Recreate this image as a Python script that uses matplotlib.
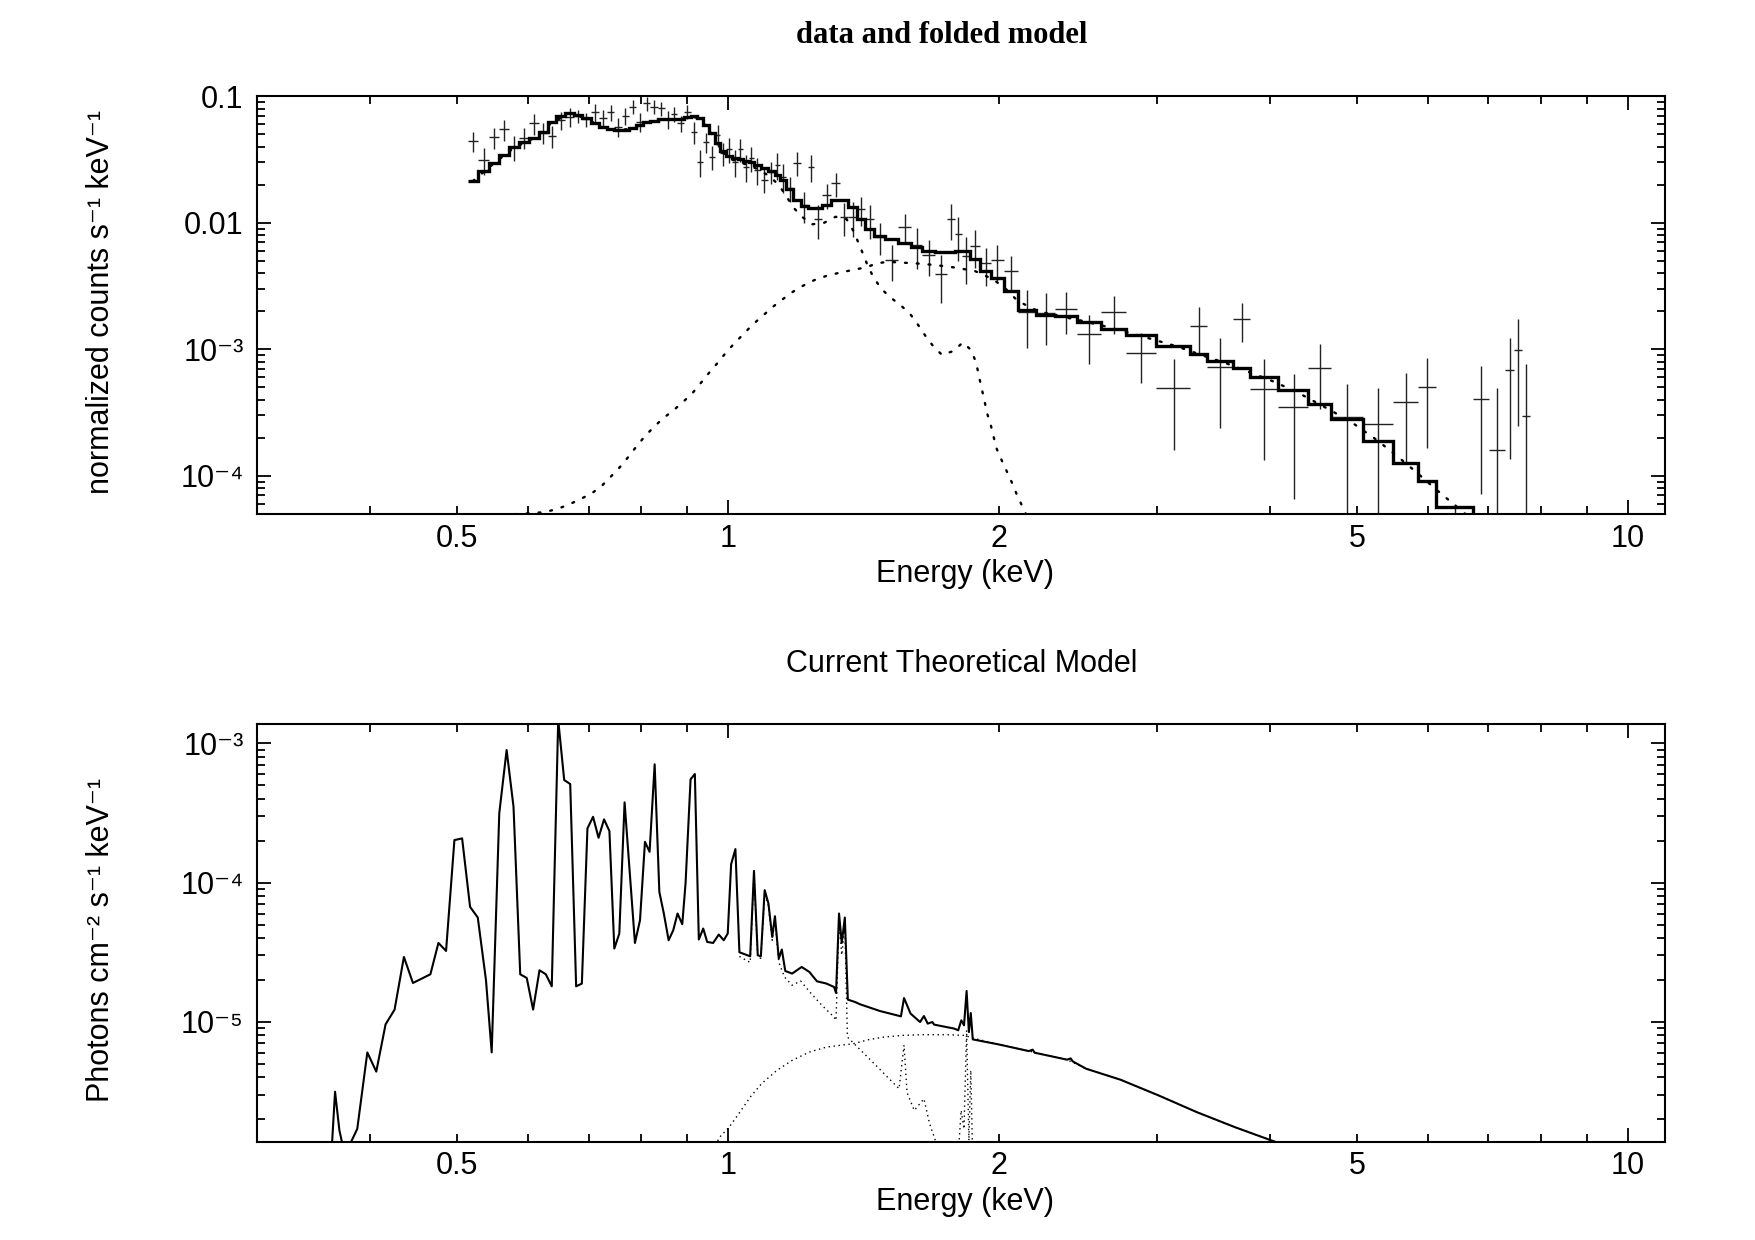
import numpy as np
import matplotlib
matplotlib.use("Agg")
import matplotlib.pyplot as plt
from matplotlib.ticker import FixedLocator, FixedFormatter, LogLocator, NullFormatter

plt.rcParams['font.family'] = ['Liberation Sans', 'DejaVu Sans']

# ---- upper panel: data and folded model ----
# channel bin edges (keV)
bin_edges = [0.5139, 0.5276, 0.5424, 0.5570, 0.5714, 0.5857, 0.6008, 0.6160, 0.6302, 0.6445,
             0.6595, 0.6745, 0.6891, 0.7035, 0.7187, 0.7335, 0.7477, 0.7618, 0.7765, 0.7911,
             0.8052, 0.8197, 0.8352, 0.8502, 0.8641, 0.8783, 0.8933, 0.9088, 0.9235, 0.9381,
             0.9527, 0.9669, 0.9810, 0.9957, 1.0108, 1.0251, 1.0398, 1.0545, 1.0694, 1.0872,
             1.1082, 1.1274, 1.1425, 1.1602, 1.1820, 1.2043, 1.2260, 1.2478, 1.2735, 1.3031,
             1.3320, 1.3612, 1.3907, 1.4205, 1.4535, 1.4949, 1.5465, 1.5965, 1.6440, 1.6986,
             1.7500, 1.7861, 1.8183, 1.8586, 1.9062, 1.9610, 2.0243, 2.1010, 2.1998, 2.3120,
             2.4425, 2.5957, 2.7704, 2.9914, 3.2648, 3.4062, 3.6440, 3.8019, 4.0878, 4.4160,
             4.6759, 5.0786, 5.4801, 5.8479, 6.1275, 6.7232, 7.0146, 7.3072, 7.4732, 7.6200,
             7.7850]

# normalized counts s^-1 keV^-1
counts = [0.04432, 0.03135, 0.04742, 0.05483, 0.03996, 0.04707, 0.06117, 0.05157, 0.04856, 0.06496,
          0.06898, 0.06988, 0.06580, 0.07471, 0.06700, 0.07471, 0.05750, 0.06988, 0.08276, 0.06299,
          0.08805, 0.08276, 0.08036, 0.06580, 0.07246, 0.06117, 0.07554, 0.05252, 0.03041, 0.04376,
          0.03330, 0.04945, 0.03543, 0.03811, 0.03041, 0.03811, 0.02777, 0.03235, 0.02616, 0.02180,
          0.02535, 0.02863, 0.02315, 0.01874, 0.02986, 0.01382, 0.02777, 0.01066, 0.01659, 0.02052,
          0.01105, 0.01117, 0.01278, 0.01066, 0.00777, 0.00508, 0.00921, 0.00668, 0.00557, 0.00394,
          0.01066, 0.00811, 0.00546, 0.00659, 0.00478, 0.00505, 0.00416, 0.00198, 0.00193, 0.00208,
          0.00132, 0.00198, 0.00094, 4.97e-4, 1.537e-3, 7.29e-4, 1.736e-3, 4.83e-4, 3.52e-4, 7.15e-4,
          2.90e-4, 2.55e-4, 3.85e-4, 5.06e-4, 1.0e-5, 4.07e-4, 1.59e-4, 6.86e-4, 9.87e-4, 2.97e-4]

counts_err = [0.0082, 0.0075, 0.0090, 0.0101, 0.0089, 0.0088, 0.0113, 0.0096, 0.0097, 0.0106,
              0.0114, 0.0080, 0.0084, 0.0122, 0.0109, 0.0106, 0.0095, 0.0105, 0.0107, 0.0104,
              0.0112, 0.0107, 0.0103, 0.0111, 0.0103, 0.0087, 0.0098, 0.0105, 0.0072, 0.0078,
              0.0072, 0.0099, 0.0075, 0.0085, 0.0072, 0.0076, 0.0066, 0.0072, 0.0062, 0.0047,
              0.0051, 0.0068, 0.0060, 0.0042, 0.0066, 0.0038, 0.0066, 0.0032, 0.0037, 0.0044,
              0.0032, 0.0035, 0.0033, 0.0032, 0.00225, 0.0016, 0.00246, 0.00237, 0.00174, 0.00163,
              0.0034, 0.0031, 0.0022, 0.0022, 0.0016, 0.0016, 0.0013, 0.00096, 0.00084, 0.00077,
              0.00055, 0.00067, 0.00040, 3.36e-4, 6.3e-4, 4.9e-4, 6.0e-4, 3.5e-4, 2.86e-4, 3.8e-4,
              2.4e-4, 2.37e-4, 2.6e-4, 3.4e-4, 5.0e-5, 3.35e-4, 3.33e-4, 5.5e-4, 7.4e-4, 4.7e-4]

folded_model = [0.02152, 0.02568, 0.02986, 0.03436, 0.03952, 0.04376, 0.04707, 0.05252, 0.06229, 0.06988,
                0.07337, 0.07116, 0.0670, 0.06117, 0.05687, 0.05483, 0.05414, 0.05414, 0.05646, 0.0593,
                0.06229, 0.06414, 0.0658, 0.0658, 0.06616, 0.06616, 0.06823, 0.06988, 0.0670, 0.0593,
                0.05128, 0.04273, 0.03695, 0.03374, 0.03253, 0.03223, 0.03080, 0.03025, 0.02863, 0.02711,
                0.02568, 0.02387, 0.02180, 0.01850, 0.01514, 0.01358, 0.01321, 0.01321, 0.01395, 0.01514,
                0.01514, 0.01341, 0.01072, 0.00888, 0.00787, 0.00745, 0.00696, 0.00647, 0.00599, 0.00585,
                0.00593, 0.00602, 0.00599, 0.00515, 0.00418, 0.00364, 0.00289, 0.00203, 0.00187, 0.00185,
                0.001653, 0.001447, 0.001297, 1.062e-3, 9.18e-4, 8.13e-4, 7.08e-4, 6.04e-4, 4.77e-4, 3.69e-4,
                2.80e-4, 1.894e-4, 1.269e-4, 9.10e-5, 5.70e-5, 3.8e-5, 3.0e-5, 2.6e-5, 2.4e-5, 2.2e-5]

# folded model components (dotted)
fsoft_e = [0.5207, 0.5497, 0.5785, 0.6084, 0.6373, 0.6670, 0.6963, 0.7261, 0.7547, 0.7838,
           0.8124, 0.8427, 0.8712, 0.9010, 0.9161, 0.9308, 0.9454, 0.9598, 0.9739, 0.9883,
           1.0032, 1.0180, 1.0470, 1.0780, 1.1146, 1.1413, 1.1631, 1.1830, 1.2085, 1.2398,
           1.2794, 1.3174, 1.3550, 1.3787, 1.3965, 1.4144, 1.4315, 1.4535, 1.4826, 1.5170,
           1.5573, 1.5957, 1.6286, 1.6580, 1.6903, 1.7297, 1.7806, 1.8243, 1.8595, 1.8863,
           1.9120, 1.9276, 1.9385, 1.9580, 1.9740, 1.9902, 2.0181, 2.0461, 2.0738, 2.0989,
           2.1296, 2.1482]
fsoft_v = [0.0214, 0.0296, 0.0392, 0.0466, 0.0621, 0.0732, 0.0667, 0.0566, 0.0537, 0.0560,
           0.0617, 0.0651, 0.0654, 0.0673, 0.0689, 0.0660, 0.0580, 0.0500, 0.0414, 0.0357,
           0.0323, 0.0310, 0.0290, 0.0267, 0.02315, 0.01954, 0.01591, 0.01316, 0.01117, 0.00973,
           0.01002, 0.01117, 0.01068, 0.00861, 0.00696, 0.00557, 0.00450, 0.00364, 0.00298, 0.002558,
           0.002219, 0.001884, 0.001542, 0.001274, 0.001062, 9.02e-4, 9.70e-4, 1.132e-3, 1.0e-3, 7.98e-4,
           5.06e-4, 3.97e-4, 3.21e-4, 2.57e-4, 2.02e-4, 1.62e-4, 1.292e-4, 1.046e-4, 8.46e-5, 6.84e-5,
           5.53e-5, 4.81e-5]

fhard_e = [0.514, 0.5856, 0.6241, 0.6444, 0.6652, 0.6849, 0.7059, 0.7257, 0.7422, 0.7592,
           0.7754, 0.7909, 0.8077, 0.8266, 0.8470, 0.8689, 0.8906, 0.9129, 0.9322, 0.9519,
           0.9731, 0.9936, 1.0165, 1.0401, 1.0640, 1.0903, 1.1186, 1.1476, 1.1762, 1.2122,
           1.2481, 1.2886, 1.3304, 1.3734, 1.4245, 1.4639, 1.5044, 1.5649, 1.6186, 1.6986,
           1.7875, 1.8811, 1.9695, 2.0362, 2.0994, 2.1981, 2.2955, 2.4406, 2.6077, 2.7797,
           2.9633, 3.1583, 3.3575, 3.5795, 4.0462, 4.3014, 4.6915, 4.9630, 5.2484, 5.5243,
           5.8136, 6.1026, 6.4210, 6.8281]
fhard_v = [4.7e-5, 4.99e-5, 5.15e-5, 5.43e-5, 5.91e-5, 6.52e-5, 7.27e-5, 8.46e-5, 9.96e-5, 1.180e-4,
           1.416e-4, 1.698e-4, 2.037e-4, 2.417e-4, 2.847e-4, 3.27e-4, 3.81e-4, 4.49e-4, 5.38e-4, 6.46e-4,
           7.75e-4, 9.30e-4, 1.115e-3, 1.314e-3, 1.556e-3, 1.810e-3, 2.133e-3, 2.454e-3, 2.802e-3, 3.184e-3,
           3.53e-3, 3.82e-3, 4.03e-3, 4.23e-3, 4.45e-3, 4.78e-3, 4.92e-3, 4.84e-3, 4.78e-3, 4.64e-3,
           4.43e-3, 4.16e-3, 3.59e-3, 3.00e-3, 2.41e-3, 2.045e-3, 1.867e-3, 1.720e-3, 1.537e-3, 1.363e-3,
           1.200e-3, 1.052e-3, 9.02e-4, 7.75e-4, 5.54e-4, 4.54e-4, 3.25e-4, 2.57e-4, 1.943e-4, 1.460e-4,
           1.077e-4, 7.96e-5, 5.88e-5, 4.08e-5]

# ---- lower panel: current theoretical model (photons cm^-2 s^-1 keV^-1) ----
theory_e = [0.3627, 0.3659, 0.3700, 0.3742, 0.3796, 0.3873, 0.3974, 0.4066, 0.4164, 0.4261,
            0.4364, 0.4466, 0.4670, 0.4767, 0.4861, 0.4966, 0.5065, 0.5169, 0.5272, 0.5384,
            0.5463, 0.5570, 0.5676, 0.5777, 0.5877, 0.5976, 0.6074, 0.6174, 0.6275, 0.6371,
            0.6477, 0.6577, 0.6679, 0.6781, 0.6881, 0.6980, 0.7081, 0.7181, 0.7283, 0.7384,
            0.7477, 0.7573, 0.7676, 0.7882, 0.7985, 0.8087, 0.8183, 0.8290, 0.8390, 0.8487,
            0.8592, 0.8694, 0.8790, 0.8897, 0.8972, 0.9088, 0.9188, 0.9282, 0.9387, 0.9483,
            0.9629, 0.9768, 0.9893, 0.9995, 1.0082, 1.0193, 1.0298, 1.0586, 1.0689, 1.0793,
            1.0879, 1.0986, 1.1092, 1.1200, 1.1278, 1.1390, 1.1479, 1.1580, 1.1784, 1.2077,
            1.2317, 1.2558, 1.2869, 1.3120, 1.3187, 1.3288, 1.3381, 1.3487, 1.3591, 1.3847,
            1.4027, 1.4754, 1.5569, 1.5693, 1.5957, 1.6352, 1.6513, 1.6674, 1.6871, 1.6953,
            1.7852, 1.8027, 1.8170, 1.8297, 1.8418, 1.8526, 1.8616, 1.8712, 1.9974, 2.1594,
            2.1810, 2.1916, 2.3816, 2.4036, 2.4165, 2.5003, 2.7307, 3.0104, 3.3192, 3.6600,
            4.0961, 4.3126]
theory_f = [1.19e-6, 3.146e-6, 1.657e-6, 1.19e-6, 1.293e-6, 1.704e-6, 6.024e-6, 4.389e-6, 9.594e-6, 1.224e-5,
            2.925e-5, 1.902e-5, 2.196e-5, 3.688e-5, 3.231e-5, 2.022e-4, 2.080e-4, 6.699e-5, 5.619e-5, 1.989e-5,
            6.034e-6, 3.147e-4, 8.98e-4, 3.510e-4, 2.196e-5, 2.066e-5, 1.224e-5, 2.347e-5, 2.196e-5, 1.800e-5,
            1.476e-3, 5.463e-4, 5.113e-4, 1.800e-5, 1.883e-5, 2.454e-4, 2.974e-4, 2.101e-4, 2.849e-4, 2.347e-4,
            3.362e-5, 4.310e-5, 3.776e-4, 3.688e-5, 5.372e-5, 1.966e-4, 1.665e-4, 7.085e-4, 8.584e-5, 6.003e-5,
            3.858e-5, 4.551e-5, 6.003e-5, 5.028e-5, 9.867e-5, 5.527e-4, 6.034e-4, 3.903e-5, 4.681e-5, 3.750e-5,
            3.688e-5, 4.239e-5, 3.858e-5, 4.310e-5, 1.358e-4, 1.742e-4, 3.162e-5, 2.958e-5, 1.216e-4, 3.008e-5,
            2.958e-5, 8.831e-5, 7.086e-5, 4.074e-5, 5.741e-5, 2.849e-5, 3.307e-5, 2.320e-5, 2.222e-5, 2.479e-5,
            2.282e-5, 1.956e-5, 1.883e-5, 1.780e-5, 1.611e-5, 6.003e-5, 3.688e-5, 5.618e-5, 1.444e-5, 1.388e-5,
            1.336e-5, 1.196e-5, 1.095e-5, 1.483e-5, 1.146e-5, 9.968e-6, 1.101e-5, 9.707e-6, 9.968e-6, 9.548e-6,
            8.935e-6, 8.69e-6, 1.025e-5, 9.44e-6, 1.667e-5, 8.44e-6, 1.157e-5, 7.48e-6, 6.89e-6, 6.164e-6,
            6.31e-6, 6.003e-6, 5.346e-6, 5.46e-6, 5.20e-6, 4.605e-6, 3.838e-6, 2.959e-6, 2.245e-6, 1.750e-6,
            1.343e-6, 1.19e-6]

soft_e = [1.0298, 1.0586, 1.0689, 1.0793, 1.0879, 1.0986, 1.1092, 1.1200, 1.1278, 1.1390,
          1.1556, 1.1784, 1.2043, 1.2375, 1.2718, 1.3120, 1.3187, 1.3288, 1.3381, 1.3487,
          1.3577, 1.4052, 1.4539, 1.5044, 1.5494, 1.5693, 1.5813, 1.6109, 1.6513, 1.6755,
          1.7004, 1.7205, 1.8012, 1.8162, 1.8297, 1.8418, 1.8526, 1.8616, 1.8716]
soft_f = [2.95e-5, 2.67e-5, 1.19e-4, 2.911e-5, 2.863e-5, 8.543e-5, 6.777e-5, 3.858e-5, 5.372e-5, 2.680e-5,
          2.101e-5, 1.831e-5, 1.966e-5, 1.595e-5, 1.314e-5, 1.082e-5, 1.025e-5, 5.34e-5, 3.02e-5, 4.95e-5,
          7.77e-6, 6.237e-6, 5.004e-6, 4.008e-6, 3.307e-6, 6.8e-6, 3.11e-6, 2.309e-6, 2.80e-6, 1.852e-6,
          1.404e-6, 1.19e-6, 1.0e-6, 2.31e-6, 1.7e-6, 8.69e-6, 1.4e-6, 4.48e-6, 9e-7]

hard_e = [0.9686, 0.9788, 1.0031, 1.0280, 1.0586, 1.0898, 1.1332, 1.1784, 1.2317, 1.2869,
          1.3785, 1.4330, 1.4901, 1.5645, 1.6432, 1.7418, 1.8297, 1.8835, 1.9974, 2.1594,
          2.3816, 2.5003, 2.7307, 3.0104, 3.3192, 3.6600, 4.0961, 4.3126]
hard_f = [1.293e-6, 1.483e-6, 1.750e-6, 2.185e-6, 2.877e-6, 3.593e-6, 4.478e-6, 5.284e-6, 6.062e-6, 6.586e-6,
          6.967e-6, 7.442e-6, 7.770e-6, 7.993e-6, 8.086e-6, 8.086e-6, 7.993e-6, 7.57e-6, 6.89e-6, 6.164e-6,
          5.346e-6, 4.605e-6, 3.838e-6, 2.959e-6, 2.245e-6, 1.750e-6, 1.343e-6, 1.19e-6]

x_minor = [0.3, 0.4, 0.5, 0.6, 0.7, 0.8, 0.9, 2, 3, 4, 5, 6, 7, 8, 9]
x_minor_labels = ['', '', '0.5', '', '', '', '', '2', '', '', '5', '', '', '', '']

fig = plt.figure(figsize=(17.55, 12.4), dpi=100)
ax1 = fig.add_axes([0.1467, 0.5856, 0.802, 0.3367])
ax2 = fig.add_axes([0.1467, 0.0793, 0.802, 0.3367])

edges = np.array(bin_edges)
centers = 0.5 * (edges[:-1] + edges[1:])
half = 0.5 * (edges[1:] - edges[:-1])
cts = np.array(counts)
err = np.array(counts_err)
low = np.clip(cts - err, 1e-9, None)

ax1.errorbar(centers, cts, xerr=half, yerr=[cts - low, err], fmt='none',
             ecolor='#222222', elinewidth=1.0, capsize=0, zorder=2)
ax1.stairs(folded_model, edges, baseline=None, color='k', lw=2.4, zorder=4)
dot_top = dict(color='k', lw=1.7, linestyle=(0, (0.8, 4.2)), dash_capstyle='round', zorder=3)
ax1.plot(fsoft_e, fsoft_v, **dot_top)
ax1.plot(fhard_e, fhard_v, **dot_top)
ax1.set_ylim(5e-5, 0.1)

ax2.plot(theory_e, theory_f, color='k', lw=1.5, zorder=4)
dot_bot = dict(color='k', lw=1.0, linestyle=(0, (1, 2.6)), zorder=3)
ax2.plot(soft_e, soft_f, **dot_bot)
ax2.plot(hard_e, hard_f, **dot_bot)
ax2.set_ylim(1.377e-6, 1.377e-3)

for ax in (ax1, ax2):
    ax.set_xscale('log')
    ax.set_yscale('log')
    ax.set_xlim(0.3, 11)
    ax.xaxis.set_major_locator(FixedLocator([1, 10]))
    ax.xaxis.set_major_formatter(FixedFormatter(['1', '10']))
    ax.xaxis.set_minor_locator(FixedLocator(x_minor))
    ax.xaxis.set_minor_formatter(FixedFormatter(x_minor_labels))
    ax.yaxis.set_minor_locator(LogLocator(base=10, subs=np.arange(2, 10)))
    ax.yaxis.set_minor_formatter(NullFormatter())
    ax.tick_params(which='both', direction='in', top=True, right=True,
                   labelsize=22, width=1.3, color='k')
    ax.tick_params(which='major', length=10)
    ax.tick_params(which='minor', length=5.5)
    ax.tick_params(axis='x', which='both', pad=7)
    ax.tick_params(axis='y', which='both', pad=10)
    for s in ax.spines.values():
        s.set_linewidth(1.5)

ax1.yaxis.set_major_locator(FixedLocator([1e-4, 1e-3, 1e-2, 1e-1]))
ax1.yaxis.set_major_formatter(FixedFormatter(['10\u207b\u2074', '10\u207b\u00b3', '0.01', '0.1']))
ax2.yaxis.set_major_locator(FixedLocator([1e-5, 1e-4, 1e-3]))
ax2.yaxis.set_major_formatter(FixedFormatter(['10\u207b\u2075', '10\u207b\u2074', '10\u207b\u00b3']))

fig.text(0.5363, 0.9711, 'data and folded model', ha='center', va='center', fontsize=22,
         fontweight='bold', family=['Liberation Serif', 'DejaVu Serif'])
fig.text(0.5479, 0.4648, 'Current Theoretical Model', ha='center', va='center', fontsize=22)
fig.text(0.5497, 0.5369, 'Energy (keV)', ha='center', va='center', fontsize=22)
fig.text(0.5497, 0.0306, 'Energy (keV)', ha='center', va='center', fontsize=22)
fig.text(0.0574, 0.7563, 'normalized counts s\u207b\u00b9 keV\u207b\u00b9', ha='center', va='center',
         rotation=90, fontsize=22)
fig.text(0.0574, 0.2419, 'Photons cm\u207b\u00b2 s\u207b\u00b9 keV\u207b\u00b9', ha='center', va='center',
         rotation=90, fontsize=22)

fig.savefig('out.png', dpi=100)
